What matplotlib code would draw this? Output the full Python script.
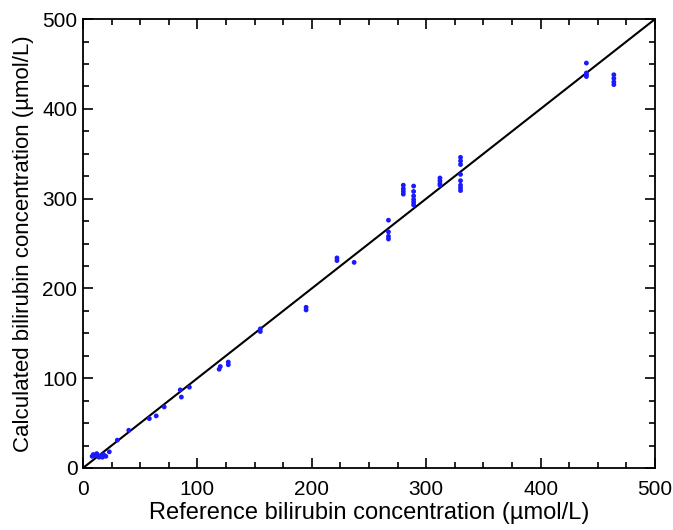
import matplotlib
matplotlib.use("Agg")
import matplotlib.pyplot as plt
from matplotlib.ticker import MultipleLocator

plt.rcParams['font.family'] = ['Liberation Sans', 'DejaVu Sans']

# Reference vs calculated bilirubin (umol/L)
ref = [8, 9, 11, 12, 14, 15, 16, 17, 18, 20, 23,
       30, 40, 58, 64, 71, 85, 86, 93,
       119, 120, 127, 127, 155, 155, 195, 195, 222, 222, 237,
       267, 267, 267, 267,
       280, 280, 280, 280,
       289, 289, 289, 289, 289, 289,
       312, 312, 312, 312,
       330, 330, 330, 330, 330, 330, 330, 330,
       440, 440, 440, 440,
       464, 464, 464, 464]
calc = [13, 15, 14, 16, 12, 13, 14, 12, 15, 13, 18,
        31, 42, 55, 58, 68, 87, 79, 90,
        110, 113, 115, 118, 152, 155, 176, 179, 231, 234, 229,
        276, 263, 258, 255,
        315, 311, 308, 305,
        314, 308, 303, 299, 296, 293,
        323, 320, 317, 315,
        346, 342, 338, 327, 320, 315, 312, 309,
        451, 440, 438, 436,
        438, 434, 430, 427]

fig = plt.figure(figsize=(6.73, 5.30), dpi=100)
ax = fig.add_axes([0.1233, 0.117, 0.85, 0.847])

ax.plot([0, 500], [0, 500], color='black', lw=1.5, zorder=2)
ax.scatter(ref, calc, s=12, color='#1a1aff', edgecolors='none', zorder=3)

ax.set_xlim(0, 500)
ax.set_ylim(0, 500)
ax.xaxis.set_major_locator(MultipleLocator(100))
ax.yaxis.set_major_locator(MultipleLocator(100))
ax.xaxis.set_minor_locator(MultipleLocator(25))
ax.yaxis.set_minor_locator(MultipleLocator(25))
ax.tick_params(which='both', direction='in', top=True, right=True, width=1.2, labelsize=15)
ax.tick_params(which='major', length=7)
ax.tick_params(which='minor', length=4)
ax.tick_params(axis='x', which='major', pad=9)
ax.tick_params(axis='y', which='major', pad=4)
for s in ax.spines.values():
    s.set_linewidth(1.3)

ax.set_xlabel('Reference bilirubin concentration (µmol/L)', fontsize=17, labelpad=2)
ax.set_ylabel('Calculated bilirubin concentration (µmol/L)', fontsize=16, labelpad=6)

fig.savefig('out.png', dpi=100)
